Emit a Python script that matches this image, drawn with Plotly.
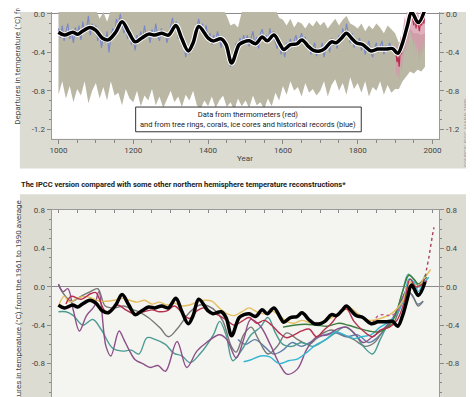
import plotly.graph_objects as go

W, H = 474, 397
FONT = "Roboto, Liberation Sans, sans-serif"

# ---------------- upper chart data ----------------
black_years = [1000,1016,1038,1051,1064,1084,1100,1117,1133,1153,1170,1188,1205,1223,1241,1258,1276,1294,1314,1329,
               1347,1360,1375,1400,1413,1435,1448,1463,1483,1496,1510,1527,1545,1558,1576,1593,1602,1620,1638,1651,
               1669,1682,1699,1712,1730,1743,1757,1770,1783,1796,1814,1836,1854,1876,1893,1907,1920,1933,1944,1962,1980]
black_vals = [-0.19,-0.22,-0.19,-0.21,-0.18,-0.14,-0.17,-0.25,-0.27,-0.19,-0.08,-0.19,-0.29,-0.25,-0.21,-0.22,-0.2,-0.22,-0.12,-0.25,
              -0.385,-0.3,-0.13,-0.25,-0.28,-0.26,-0.32,-0.51,-0.32,-0.29,-0.28,-0.31,-0.24,-0.28,-0.22,-0.32,-0.37,-0.32,-0.31,-0.27,
              -0.34,-0.38,-0.385,-0.36,-0.29,-0.30,-0.25,-0.20,-0.25,-0.30,-0.32,-0.385,-0.365,-0.365,-0.36,-0.41,-0.30,-0.12,0.02,-0.09,0.05]

blue_years = list(range(1000, 1901, 5))
blue_vals = [
    -0.15,-0.25,-0.12,-0.28,-0.18,-0.10,-0.26,-0.20,-0.30,-0.14,
    -0.22,-0.12,-0.27,-0.08,-0.20,-0.16,-0.02,-0.22,-0.10,-0.18,
    -0.12,-0.28,-0.20,-0.35,-0.22,-0.30,-0.18,-0.40,-0.24,-0.15,
    -0.22,-0.05,-0.12,0.00,-0.10,-0.20,-0.14,-0.26,-0.18,-0.32,
    -0.25,-0.38,-0.22,-0.30,-0.18,-0.27,-0.12,-0.24,-0.20,-0.30,
    -0.16,-0.25,-0.10,-0.22,-0.28,-0.15,-0.24,-0.18,-0.30,-0.20,
    -0.10,-0.04,-0.18,-0.08,-0.26,-0.20,-0.33,-0.28,-0.45,-0.35,
    -0.42,-0.30,-0.36,-0.22,-0.15,-0.05,-0.18,-0.10,-0.20,-0.12,
    -0.28,-0.20,-0.32,-0.22,-0.30,-0.18,-0.26,-0.35,-0.24,-0.30,
    -0.38,-0.45,-0.55,-0.48,-0.42,-0.30,-0.38,-0.25,-0.32,-0.22,
    -0.30,-0.22,-0.34,-0.25,-0.18,-0.32,-0.24,-0.36,-0.20,-0.16,
    -0.28,-0.22,-0.30,-0.15,-0.24,-0.18,-0.30,-0.36,-0.28,-0.42,
    -0.35,-0.45,-0.30,-0.38,-0.26,-0.34,-0.28,-0.22,-0.32,-0.25,
    -0.20,-0.30,-0.24,-0.36,-0.30,-0.42,-0.35,-0.30,-0.44,-0.36,
    -0.40,-0.30,-0.45,-0.35,-0.30,-0.40,-0.25,-0.33,-0.28,-0.36,
    -0.22,-0.30,-0.15,-0.25,-0.10,-0.22,-0.30,-0.20,-0.35,-0.28,
    -0.32,-0.25,-0.38,-0.30,-0.42,-0.34,-0.28,-0.40,-0.45,-0.36,
    -0.30,-0.40,-0.35,-0.28,-0.42,-0.33,-0.38,-0.30,-0.36,-0.40,
    -0.38]

band_years = list(range(1000, 1981, 10))
band_low = [
    -0.84,-0.70,-0.88,-0.75,-0.92,-0.78,-0.85,-0.70,-0.93,-0.80,
    -0.72,-0.88,-0.76,-0.90,-0.70,-0.85,-0.82,-0.95,-0.78,-0.88,
    -0.92,-0.80,-0.96,-0.85,-0.90,-0.78,-0.95,-0.86,-0.98,-0.88,
    -0.80,-0.92,-0.86,-0.97,-0.84,-0.90,-0.80,-0.95,-0.99,-0.90,
    -0.96,-0.86,-0.98,-0.90,-0.85,-0.97,-0.92,-1.00,-0.88,-0.96,
    -0.90,-0.98,-0.85,-0.95,-0.92,-0.99,-0.88,-0.96,-0.82,-0.90,
    -0.75,-0.84,-0.70,-0.80,-0.76,-0.86,-0.72,-0.82,-0.78,-0.85,
    -0.80,-0.70,-0.86,-0.74,-0.68,-0.80,-0.72,-0.84,-0.66,-0.78,
    -0.72,-0.82,-0.70,-0.86,-0.76,-0.80,-0.70,-0.84,-0.74,-0.82,
    -0.78,-0.78,-0.70,-0.65,-0.60,-0.62,-0.58,-0.60,-0.55]
band_high = [
    0.05,0.05,0.03,0.05,0.05,0.05,0.04,0.05,0.05,0.05,
    0.05,-0.05,0.02,-0.08,0.04,0.05,0.05,0.05,0.05,0.05,
    0.05,0.05,0.05,0.03,0.05,0.05,0.05,0.05,0.05,0.05,
    0.05,0.05,0.05,0.05,0.05,0.05,0.05,0.05,0.05,0.05,
    0.05,0.05,0.05,0.05,0.05,-0.02,-0.12,-0.10,-0.14,0.02,
    0.05,0.05,0.05,0.05,0.05,0.05,0.05,0.05,0.05,-0.04,
    -0.06,-0.12,-0.05,-0.14,-0.08,-0.10,-0.15,-0.09,-0.13,-0.07,
    -0.12,-0.08,-0.15,-0.10,-0.05,-0.12,-0.06,-0.02,-0.10,-0.12,
    -0.15,-0.10,-0.18,-0.12,-0.16,-0.10,-0.14,-0.20,-0.12,-0.16,
    -0.20,-0.30,-0.25,-0.20,-0.15,-0.20,-0.20,-0.22,-0.20]

red_years = list(range(1902, 1981, 3))
red_vals = [-0.40,-0.50,-0.45,-0.55,-0.35,-0.42,-0.30,-0.25,-0.15,-0.22,-0.05,-0.12,0.02,0.05,
            0.03,-0.05,-0.12,-0.02,-0.15,-0.05,-0.10,-0.18,-0.08,-0.12,-0.05,-0.10,0.04]
red_low = [-0.58,-0.66,-0.60,-0.70,-0.52,-0.60,-0.48,-0.42,-0.35,-0.40,-0.25,-0.32,-0.20,-0.18,
           -0.22,-0.28,-0.35,-0.25,-0.40,-0.30,-0.38,-0.50,-0.35,-0.45,-0.30,-0.40,-0.20]
red_high = [-0.28,-0.36,-0.30,-0.40,-0.22,-0.30,-0.18,-0.12,-0.02,-0.08,0.05,0.00,0.10,0.12,
            0.10,0.05,0.00,0.08,-0.02,0.06,0.02,-0.05,0.04,0.00,0.06,0.02,0.12]

# ---------------- lower chart data ----------------
yellow_years = [1000,1015,1030,1050,1070,1090,1110,1130,1150,1170,1190,1210,1230,1250,1270,1290,1310,1330,1350,1370,
                1390,1410,1430,1450,1470,1490,1510,1530,1550,1570,1590,1610,1630,1650,1680,1710,1740,1760,1780,1800,
                1830,1860,1890,1920,1940,1960,1980,1995]
yellow_vals = [-0.20,-0.10,-0.16,-0.12,-0.10,-0.12,-0.15,-0.15,-0.14,-0.12,-0.14,-0.16,-0.14,-0.18,-0.16,-0.19,-0.17,-0.20,-0.19,-0.16,
               -0.14,-0.15,-0.22,-0.28,-0.30,-0.26,-0.22,-0.26,-0.28,-0.25,-0.30,-0.36,-0.38,-0.35,-0.38,-0.36,-0.30,-0.25,-0.22,-0.28,
               -0.35,-0.33,-0.28,-0.15,0.05,0.00,0.10,0.18]

crimson_years = [1020,1034,1060,1087,1100,1127,1158,1180,1200,1220,1250,1270,1290,1310,1330,1350,1370,1390,1410,1430,
                 1450,1470,1490,1510,1530,1550,1570,1590,1610,1630,1650,1670,1690,1710,1730,1750,1770,1790,1815,1840,
                 1860,1885,1905,1925,1940,1955,1970,1985]
crimson_vals = [-0.18,-0.10,-0.13,-0.07,-0.06,-0.26,-0.19,-0.24,-0.28,-0.27,-0.24,-0.26,-0.25,-0.20,-0.27,-0.33,-0.25,-0.22,-0.27,-0.30,
                -0.35,-0.40,-0.36,-0.32,-0.38,-0.35,-0.40,-0.48,-0.53,-0.50,-0.46,-0.44,-0.52,-0.45,-0.38,-0.28,-0.23,-0.36,-0.46,-0.52,
                -0.45,-0.42,-0.35,-0.15,0.08,0.00,0.02,0.06]

mauve_years = [1000,1012,1025,1040,1056,1075,1096,1108,1127,1140,1162,1175,1189,1205,1225,1246,1266,1286,1317,1343,
               1370,1396,1431,1450,1475,1495,1514,1540,1566,1593,1611,1638,1664,1690,1720,1745,1770,1795,1815,1840,
               1865,1890,1910,1937,1955,1973,1985]
mauve_vals = [0.03,-0.05,-0.02,-0.25,-0.46,-0.30,-0.20,-0.05,-0.62,-0.72,-0.46,-0.55,-0.66,-0.76,-0.80,-0.84,-0.82,-0.88,-0.57,-0.84,
              -0.67,-0.58,-0.50,-0.55,-0.74,-0.55,-0.34,-0.41,-0.60,-0.82,-0.91,-0.86,-0.65,-0.52,-0.50,-0.44,-0.42,-0.50,-0.58,-0.52,
              -0.45,-0.35,-0.20,0.00,-0.02,0.05,0.07]

teal_years = [1000,1020,1040,1065,1092,1115,1145,1171,1195,1215,1237,1260,1286,1308,1330,1352,1378,1414,1431,1448,
              1466,1493,1515,1540,1560,1580,1600,1625,1650,1680,1710,1740,1765,1790,1815,1840,1860,1880,1900,1920,
              1935,1950,1965,1980]
teal_vals = [-0.26,-0.26,-0.30,-0.40,-0.34,-0.45,-0.64,-0.67,-0.66,-0.70,-0.53,-0.55,-0.60,-0.69,-0.72,-0.79,-0.70,-0.50,-0.36,-0.50,
             -0.77,-0.64,-0.50,-0.42,-0.32,-0.48,-0.60,-0.62,-0.58,-0.62,-0.56,-0.48,-0.42,-0.48,-0.62,-0.70,-0.55,-0.40,-0.30,-0.05,
             0.13,0.08,0.00,0.12]

gray_years = [1000,1015,1035,1060,1085,1105,1125,1150,1175,1200,1215,1240,1272,1294,1317,1352,1378,1400,1422,1440,
              1462,1475,1495,1515,1535,1560,1585,1610,1640,1670,1700,1730,1760,1790,1820,1845,1870,1895,1915,1935,
              1950,1962,1975]
gray_vals = [0.02,-0.08,-0.15,-0.10,-0.05,-0.02,-0.20,-0.22,-0.20,-0.24,-0.26,-0.32,-0.43,-0.52,-0.44,-0.26,-0.19,-0.20,-0.26,-0.36,
             -0.62,-0.68,-0.50,-0.42,-0.55,-0.70,-0.62,-0.48,-0.55,-0.60,-0.50,-0.45,-0.50,-0.55,-0.62,-0.58,-0.45,-0.38,-0.20,-0.05,
             -0.12,-0.20,-0.15]

cyan_years = [1495,1515,1540,1565,1590,1615,1640,1665,1690,1715,1740,1765,1790,1810,1835,1860,1885,1905,1925,1937,
              1950,1962,1975,1990]
cyan_vals = [-0.78,-0.76,-0.72,-0.73,-0.80,-0.77,-0.75,-0.68,-0.60,-0.55,-0.47,-0.50,-0.54,-0.52,-0.50,-0.42,-0.36,-0.28,-0.10,0.08,
             0.05,-0.05,0.03,0.10]

green_years = [1600,1630,1660,1690,1720,1750,1775,1800,1830,1855,1880,1900,1920,1937,1950,1962,1975,1985]
green_vals = [-0.42,-0.40,-0.39,-0.40,-0.41,-0.38,-0.40,-0.43,-0.46,-0.47,-0.42,-0.30,-0.05,0.12,0.08,0.03,0.07,0.10]

slate_years = [1480,1500,1525,1550,1575,1600,1625,1650,1680,1710,1740,1770,1800,1830,1860,1890,1910,1930,1945,1960,1975]
slate_vals = [-0.55,-0.60,-0.55,-0.62,-0.70,-0.66,-0.58,-0.62,-0.56,-0.50,-0.48,-0.52,-0.50,-0.58,-0.50,-0.35,-0.25,-0.05,-0.08,-0.18,-0.15]

pink_years = [1840,1855,1870,1885,1900,1915]
pink_vals = [-0.38,-0.30,-0.29,-0.30,-0.28,-0.20]

instr_years = [1975,1980,1985,1990,1995,2000,2004]
instr_vals = [0.05,0.10,0.20,0.30,0.42,0.54,0.62]

# ---------------- axis/tick labels ----------------
year_ticks = [1000, 1200, 1400, 1600, 1800, 2000]
upper_yticks = [0.0, -0.4, -0.8, -1.2]
upper_ylabels = ["0.0", "-0.4", "-0.8", "-1.2"]
lower_yticks = [0.8, 0.4, 0.0, -0.4, -0.8, -1.2]
lower_ylabels = ["0.8", "0.4", "0.0", "-0.4", "-0.8", "-1.2"]

# ---------------- figure ----------------
fig = go.Figure()

def band(x, lo, hi, color, xa, ya):
    fig.add_trace(go.Scatter(x=x, y=lo, mode="lines", line=dict(width=0, color=color),
                             xaxis=xa, yaxis=ya, showlegend=False, hoverinfo="skip"))
    fig.add_trace(go.Scatter(x=x, y=hi, mode="lines", line=dict(width=0, color=color), fill="tonexty",
                             fillcolor=color, xaxis=xa, yaxis=ya, showlegend=False, hoverinfo="skip"))

# upper
band(band_years, band_low, band_high, "#bab7a4", "x", "y")
fig.add_trace(go.Scatter(x=blue_years, y=blue_vals, mode="lines", line=dict(color="rgba(110,128,205,0.85)", width=1.1),
                         xaxis="x", yaxis="y", showlegend=False))
band(red_years, red_low, red_high, "rgba(215,150,170,0.75)", "x", "y")
fig.add_trace(go.Scatter(x=red_years, y=red_vals, mode="lines", line=dict(color="#b8304f", width=1.2),
                         xaxis="x", yaxis="y", showlegend=False))
fig.add_trace(go.Scatter(x=black_years, y=black_vals, mode="lines", line=dict(color="white", width=5.5, shape="spline", smoothing=1),
                         xaxis="x", yaxis="y", showlegend=False))
fig.add_trace(go.Scatter(x=black_years, y=black_vals, mode="lines", line=dict(color="black", width=3.5, shape="spline", smoothing=1),
                         xaxis="x", yaxis="y", showlegend=False))
fig.add_trace(go.Scatter(x=[None], y=[None], xaxis="x", yaxis="y3", showlegend=False))

# lower
series = [
    (slate_years, slate_vals, "#5d7ea8", "solid"),
    (gray_years, gray_vals, "#777777", "solid"),
    (teal_years, teal_vals, "#4b9b92", "solid"),
    (mauve_years, mauve_vals, "#8c4f88", "solid"),
    (cyan_years, cyan_vals, "#35b6d3", "solid"),
    (green_years, green_vals, "#3e7f3e", "solid"),
    (yellow_years, yellow_vals, "#e3bf5f", "solid"),
    (crimson_years, crimson_vals, "#b5304e", "solid"),
    (pink_years, pink_vals, "#c45a92", "dot"),
    (instr_years, instr_vals, "#a8405e", "dot"),
]
for xs, ys, c, d in series:
    fig.add_trace(go.Scatter(x=xs, y=ys, mode="lines",
                             line=dict(color=c, width=1.4, shape="spline", smoothing=1, dash=d),
                             xaxis="x2", yaxis="y2", showlegend=False))
fig.add_trace(go.Scatter(x=black_years, y=black_vals, mode="lines",
                         line=dict(color="black", width=3.5, shape="spline", smoothing=1),
                         xaxis="x2", yaxis="y2", showlegend=False))
fig.add_trace(go.Scatter(x=[None], y=[None], xaxis="x2", yaxis="y4", showlegend=False))

xdom = [42 / W, 434 / W]
up_dom = [1 - 128 / H, 1.0]
lo_dom = [0.0, 1 - 200 / H]
xr = [981.5, 2018.5]
up_r = [-1.299, 0.0206]
lo_r = [-1.231, 0.8]
tickfont = dict(family=FONT, size=8, color="#444")
axline = "#9a9a9a"

yminor = dict(ticks="outside", ticklen=2, dtick=0.1, tick0=0, tickcolor="#888")

fig.update_layout(
    width=W, height=H, margin=dict(l=0, r=0, t=0, b=0),
    paper_bgcolor="white", plot_bgcolor="rgba(0,0,0,0)",
    xaxis=dict(domain=xdom, range=xr, anchor="y", tickvals=year_ticks, ticks="outside", ticklen=4,
               tickcolor="#888", showline=True, linecolor=axline, showgrid=False, zeroline=False,
               tickfont=tickfont, minor=dict(ticks="outside", ticklen=3, dtick=50, tick0=1000, tickcolor="#888")),
    yaxis=dict(domain=up_dom, range=up_r, anchor="x", tickvals=upper_yticks, ticktext=upper_ylabels,
               ticks="outside", ticklen=4, tickcolor="#888", showline=True, linecolor=axline, showgrid=False,
               zeroline=True, zerolinecolor="#8a8a8a", zerolinewidth=1, tickfont=tickfont, minor=yminor),
    yaxis3=dict(overlaying="y", side="right", anchor="x", range=up_r, tickvals=upper_yticks, ticktext=upper_ylabels,
                ticks="outside", ticklen=4, tickcolor="#888", showline=True, linecolor=axline, showgrid=False,
                zeroline=False, tickfont=tickfont, minor=yminor),
    xaxis2=dict(domain=xdom, range=xr, anchor="y2", side="top", dtick=50, tick0=1000, ticks="inside", ticklen=3,
                tickcolor="#888", showticklabels=False, showline=True, linecolor=axline, showgrid=False, zeroline=False),
    yaxis2=dict(domain=lo_dom, range=lo_r, anchor="x2", tickvals=lower_yticks, ticktext=lower_ylabels,
                ticks="outside", ticklen=4, tickcolor="#888", showline=True, linecolor=axline, showgrid=False,
                zeroline=True, zerolinecolor="#8a8a8a", zerolinewidth=1, tickfont=tickfont, minor=yminor),
    yaxis4=dict(overlaying="y2", side="right", anchor="x2", range=lo_r, tickvals=lower_yticks, ticktext=lower_ylabels,
                ticks="outside", ticklen=4, tickcolor="#888", showline=True, linecolor=axline, showgrid=False,
                zeroline=False, tickfont=tickfont, minor=yminor),
)

shapes = [
    dict(type="rect", xref="paper", yref="paper", x0=10 / W, x1=464 / W, y0=1 - 158 / H, y1=1.0,
         fillcolor="#dcdcd3", line=dict(width=0), layer="below"),
    dict(type="rect", xref="paper", yref="paper", x0=10 / W, x1=465 / W, y0=0, y1=1 - 184 / H,
         fillcolor="#dcdcd3", line=dict(width=0), layer="below"),
    dict(type="rect", xref="paper", yref="paper", x0=xdom[0], x1=xdom[1], y0=up_dom[0], y1=up_dom[1],
         fillcolor="white", line=dict(width=0), layer="below"),
    dict(type="rect", xref="paper", yref="paper", x0=xdom[0], x1=xdom[1], y0=lo_dom[0], y1=lo_dom[1],
         fillcolor="#f4f4f1", line=dict(width=0), layer="below"),
    dict(type="rect", xref="paper", yref="paper", x0=127 / W, x1=355 / W, y0=1 - 121 / H, y1=1 - 96 / H,
         fillcolor="white", line=dict(width=1, color="#333")),
]
fig.update_layout(shapes=shapes)

ytitle = "Departures in temperature (°C) from the 1961 to 1990 average"
annotations = [
    dict(text=ytitle, xref="paper", yref="paper", x=8 / W, y=1 - 116 / H, xanchor="center", yanchor="bottom",
         textangle=-90, showarrow=False, font=dict(family=FONT, size=8, color="#444")),
    dict(text=ytitle, xref="paper", yref="paper", x=8 / W, y=1 - 188 / H, xanchor="center", yanchor="top",
         textangle=-90, showarrow=False, font=dict(family=FONT, size=8, color="#444")),
    dict(text="Year", xref="paper", yref="paper", x=237 / W, y=1 - 148 / H, xanchor="center", yanchor="middle",
         showarrow=False, font=dict(family=FONT, size=8, color="#444")),
    dict(text="Data from thermometers (red)<br>and from tree rings, corals, ice cores and historical records (blue)",
         xref="paper", yref="paper", x=241 / W, y=1 - 108.5 / H, xanchor="center", yanchor="middle",
         showarrow=False, font=dict(family=FONT, size=7.5, color="#222")),
    dict(text="<b>The IPCC version compared with some other northern hemisphere temperature reconstructions*</b>",
         xref="paper", yref="paper", x=9 / W, y=1 - 174 / H, xanchor="left", yanchor="middle",
         showarrow=False, font=dict(family=FONT, size=7.5, color="#222")),
    dict(text="SOURCE: IPCC, MANN 1999", xref="paper", yref="paper", x=461 / W, y=1 - 122 / H,
         xanchor="center", yanchor="middle", textangle=-90, showarrow=False,
         font=dict(family=FONT, size=5.5, color="#999")),
]
fig.update_layout(annotations=annotations)

fig.write_html("out.html")
